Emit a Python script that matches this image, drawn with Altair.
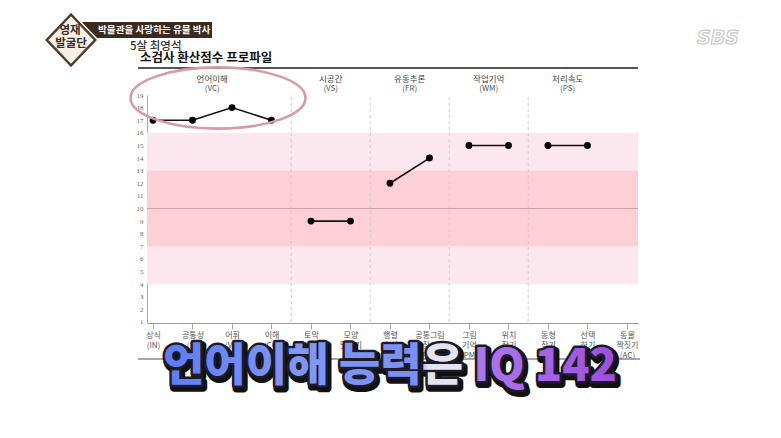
import altair as alt
import pandas as pd

# ---------------- data ----------------
subtests = ["상식", "공통성", "어휘", "이해", "토막짜기", "모양맞추기", "행렬추리",
            "공통그림찾기", "그림기억", "위치찾기", "동형찾기", "선택하기", "동물짝짓기"]
label_lines = [["상식", "(IN)"], ["공통성", "(SI)"], ["어휘", "(VC)"], ["이해", "(CO)"],
               ["토막", "짜기", "(BD)"], ["모양", "맞추기", "(OA)"], ["행렬", "추리", "(MR)"],
               ["공통그림", "찾기", "(PCn)"], ["그림", "기억", "(PM)"], ["위치", "찾기", "(ZL)"],
               ["동형", "찾기", "(BS)"], ["선택", "하기", "(CA)"], ["동물", "짝짓기", "(AC)"]]
scores = [17, 17, 18, 17, 9, 9, 12, 14, 15, 15, 15, 15, None]
groups = ["VC", "VC", "VC", "VC", "VS", "VS", "FR", "FR", "WM", "WM", "PS", "PS", "PS"]
index_names = ["언어이해", "시공간", "유동추론", "작업기억", "처리속도"]
index_codes = ["VC", "VS", "FR", "WM", "PS"]
band_outer = [4, 16]
band_inner = [7, 13]
mean_score = 10
y_ticks = list(range(1, 20))

title_text = ["소검사 환산점수 프로파일"]
child_text = ["5살 최영석"]
banner_text = ["박물관을 사랑하는 유물 박사"]
logo_text = ["영재", "발굴단"]
caption_text = ["언어이해 능력은 IQ 142"]
channel_text = ["SBS"]

# ---------------- tables ----------------
df = pd.DataFrame({"idx": list(range(len(subtests))), "subtest": subtests,
                   "score": scores, "grp": groups})
df_pts = df.dropna(subset=["score"])

centers = [df_pts[df_pts.grp == c]["idx"].mean() for c in index_codes]
df_head = pd.DataFrame({"name": index_names, "code": ["(" + c + ")" for c in index_codes],
                        "pos": centers})
seps = []
for a, b in zip(index_codes[:-1], index_codes[1:]):
    last_a = df[df.grp == a]["idx"].max()
    first_b = df[df.grp == b]["idx"].min()
    seps.append((last_a + first_b) / 2)
df_sep = pd.DataFrame({"sep": seps})
df_bands = pd.DataFrame({"lo": [band_outer[0], band_inner[0]],
                         "hi": [band_outer[1], band_inner[1]],
                         "kind": ["outer", "inner"]})
df_mean = pd.DataFrame({"m": [mean_score]})
one = pd.DataFrame({"k": [0]})

FONT = "Noto Sans CJK KR"

label_expr = "[" + ",".join("[" + ",".join("'" + s + "'" for s in ls) + "]"
                            for ls in label_lines) + "][datum.value]"

xs = alt.Scale(domain=[-0.152, 12.28], nice=False, zero=False)
ys = alt.Scale(domain=[0.92, 19], nice=False, zero=False)

x_axis = alt.Axis(values=list(range(len(subtests))), labelExpr=label_expr, title="",
                  grid=False, labelFontSize=8, labelColor="#555", labelFont=FONT,
                  labelLineHeight=10, labelPadding=2, labelOverlap=False, labelFlush=False,
                  tickSize=6, tickColor="#aaa", domainColor="#999", labelBaseline="top")
y_axis = alt.Axis(values=y_ticks, title="", grid=False, ticks=False, labelFontSize=7,
                  labelColor="#666", labelFont="Liberation Serif", labelPadding=4,
                  labelOverlap=False, labelFlush=False, labelBound=False,
                  domainColor="#aaa")

bands = alt.Chart(df_bands).mark_rect().encode(
    x=alt.value(0), x2=alt.value("width"),
    y=alt.Y("lo:Q", scale=ys, axis=y_axis), y2="hi:Q",
    color=alt.Color("kind:N", scale=alt.Scale(domain=["outer", "inner"],
                                              range=["#fde7ee", "#fdd0d5"]), legend=None),
)
mean_rule = alt.Chart(df_mean).mark_rule(color="#c9a3a8", strokeWidth=1.2).encode(
    y=alt.Y("m:Q", scale=ys, axis=y_axis), x=alt.value(0), x2=alt.value("width"))
sep_rules = alt.Chart(df_sep).mark_rule(color="#cfcfcf", strokeDash=[3, 3], strokeWidth=1).encode(
    x=alt.X("sep:Q", scale=xs, axis=x_axis), y=alt.value(2), y2=alt.value("height"))

lines = alt.Chart(df_pts).mark_line(color="#111", strokeWidth=1.6).encode(
    x=alt.X("idx:Q", scale=xs, axis=x_axis),
    y=alt.Y("score:Q", scale=ys, axis=y_axis), detail="grp:N")
points = alt.Chart(df_pts).mark_circle(color="#000", size=48, opacity=1).encode(
    x=alt.X("idx:Q", scale=xs, axis=x_axis), y=alt.Y("score:Q", scale=ys, axis=y_axis))

head1 = alt.Chart(df_head).mark_text(font=FONT, fontSize=8.5, color="#444").encode(
    x=alt.X("pos:Q", scale=xs, axis=x_axis), y=alt.value(-16), text="name:N")
head2 = alt.Chart(df_head).mark_text(font=FONT, fontSize=8, color="#555").encode(
    x=alt.X("pos:Q", scale=xs, axis=x_axis), y=alt.value(-6), text="code:N")

top_line = alt.Chart(one).mark_rule(color="#555", strokeWidth=2).encode(
    x=alt.value(-9), x2=alt.value(491), y=alt.value(-27))
bottom_line = alt.Chart(one).mark_rule(color="#888", strokeWidth=1.5).encode(
    x=alt.value(-9), x2=alt.value(493), y=alt.value(264))

title = alt.Chart(pd.DataFrame({"t": title_text})).mark_text(
    font=FONT, fontSize=12.5, fontWeight="bold", color="#111", align="left").encode(
    x=alt.value(-7), y=alt.value(-37), text="t:N")
child = alt.Chart(pd.DataFrame({"t": child_text})).mark_text(
    font=FONT, fontSize=11.5, fontWeight=500, color="#333", align="left").encode(
    x=alt.value(-17), y=alt.value(-48), text="t:N")

banner_rect = alt.Chart(one).mark_rect(color="#3a2a1f").encode(
    x=alt.value(-67), x2=alt.value(65), y=alt.value(-73), y2=alt.value(-57))
banner = alt.Chart(pd.DataFrame({"t": banner_text})).mark_text(
    font=FONT, fontSize=9.6, fontWeight="bold", color="#ffffff", align="left").encode(
    x=alt.value(-49), y=alt.value(-65), text="t:N")

diamond_path = "M-1,0L0,-1.05L1,0L0,1.05Z"
logo_outer = alt.Chart(one).mark_point(shape=diamond_path, filled=True, color="#4a3a2c",
                                        stroke="#ffffff", strokeWidth=1.5,
                                        opacity=1, size=2900).encode(
    x=alt.value(-76), y=alt.value(-55))
logo_inner = alt.Chart(one).mark_point(shape=diamond_path, filled=True, color="#f4f0e6",
                                        stroke="#6b5a48", strokeWidth=0.8,
                                        opacity=1, size=2100).encode(
    x=alt.value(-76), y=alt.value(-55))
logo_t1 = alt.Chart(pd.DataFrame({"t": [logo_text[0]]})).mark_text(
    font=FONT, fontSize=11.5, fontWeight="bold", color="#3d2e22").encode(
    x=alt.value(-77), y=alt.value(-64), text="t:N")
logo_t2 = alt.Chart(pd.DataFrame({"t": [logo_text[1]]})).mark_text(
    font=FONT, fontSize=11.5, fontWeight="bold", color="#3d2e22").encode(
    x=alt.value(-76), y=alt.value(-51), text="t:N")

sbs = alt.Chart(pd.DataFrame({"t": channel_text})).mark_text(
    font="DejaVu Sans", fontSize=19, fontWeight="bold", fontStyle="italic",
    color="#ffffff", stroke="#c8c8c8", strokeWidth=1.2).encode(
    x=alt.value(571), y=alt.value(-57), text="t:N")

ellipse_path = ("M-1,0C-1,-0.193,-0.552,-0.35,0,-0.35C0.552,-0.35,1,-0.193,1,0"
                "C1,0.193,0.552,0.35,0,0.35C-0.552,0.35,-1,0.193,-1,0Z")
ellipse = alt.Chart(one).mark_point(shape=ellipse_path, filled=False, color="#d59ca2",
                                     strokeWidth=2.6, opacity=1, size=30625).encode(
    x=alt.value(71), y=alt.value(3))

grad = {"gradient": "linear", "x1": 0, "x2": 1, "y1": 0, "y2": 0,
        "stops": [{"offset": 0, "color": "#5d7cf4"},
                  {"offset": 0.3, "color": "#8197f6"},
                  {"offset": 0.56, "color": "#7b90f0"},
                  {"offset": 0.585, "color": "#e4e4ee"},
                  {"offset": 0.655, "color": "#e4e4ee"},
                  {"offset": 0.68, "color": "#ac78ec"},
                  {"offset": 1, "color": "#9d4fdc"}]}
cap_df = pd.DataFrame({"t": caption_text})
cap_shadow = alt.Chart(cap_df).mark_text(
    font=FONT, fontSize=45, fontWeight=900, color="#111", stroke="#111",
    strokeWidth=8, strokeJoin="round", dx=2, dy=3).encode(
    x=alt.value(243), y=alt.value(272), text="t:N")
cap_outline = alt.Chart(cap_df).mark_text(
    font=FONT, fontSize=45, fontWeight=900, color="#1b1b2b", stroke="#1b1b2b",
    strokeWidth=5, strokeJoin="round").encode(
    x=alt.value(243), y=alt.value(272), text="t:N")
cap_fill = alt.Chart(cap_df).mark_text(
    font=FONT, fontSize=45, fontWeight=900).encode(
    x=alt.value(243), y=alt.value(272), text="t:N", fill=alt.value(grad))

chart = alt.layer(
    bands, mean_rule, sep_rules, lines, points, head1, head2,
    top_line, bottom_line, title, child,
    banner_rect, banner, logo_outer, logo_inner, logo_t1, logo_t2,
    sbs, ellipse, cap_shadow, cap_outline, cap_fill,
).properties(
    width=491, height=228,
    autosize=alt.AutoSizeParams(type="none"),
    padding={"left": 139, "top": 87, "right": 135, "bottom": 107},
    background="#ffffff",
).configure_view(strokeWidth=0).configure_axisY(labelOverlap=False).configure_axisX(
    labelOverlap=False)

chart.save("out.html", embed_options={"renderer": "svg", "actions": False})
